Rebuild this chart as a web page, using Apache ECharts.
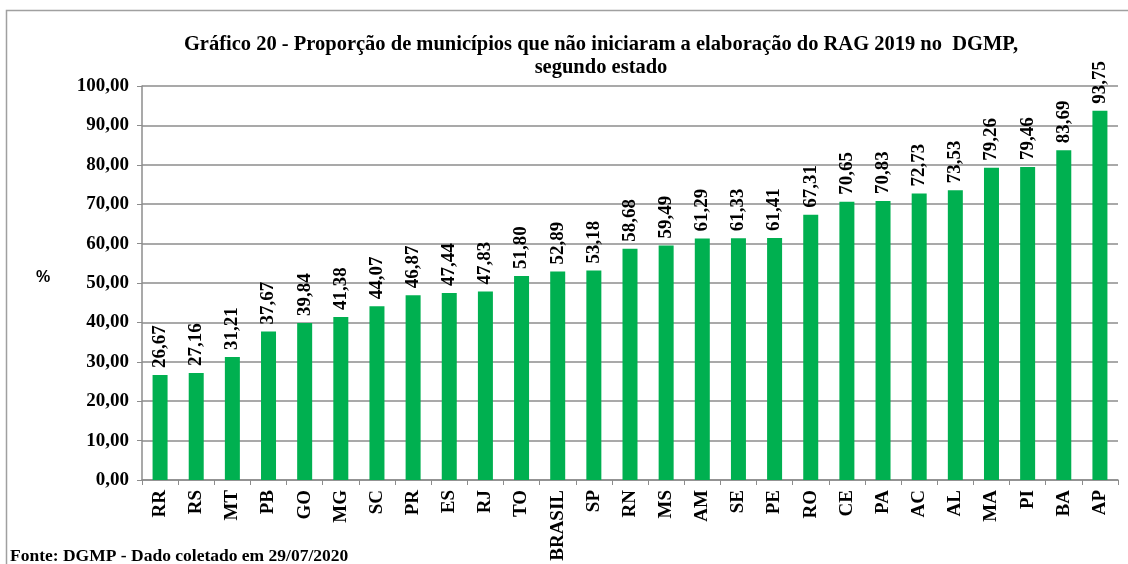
<!DOCTYPE html>
<html>
<head>
<meta charset="utf-8">
<script src="https://cdn.jsdelivr.net/npm/echarts@6/dist/echarts.min.js"></script>
<style>
  html, body { margin: 0; padding: 0; background: #fff; }
  #chart { width: 1128px; height: 564px; }
</style>
</head>
<body>
<div id="chart"></div>
<script>
// dados do gráfico
var estados = ['RR', 'RS', 'MT', 'PB', 'GO', 'MG', 'SC', 'PR', 'ES', 'RJ', 'TO', 'BRASIL', 'SP', 'RN',
  'MS', 'AM', 'SE', 'PE', 'RO', 'CE', 'PA', 'AC', 'AL', 'MA', 'PI', 'BA', 'AP'];
var proporcao = [26.67, 27.16, 31.21, 37.67, 39.84, 41.38, 44.07, 46.87, 47.44, 47.83, 51.80, 52.89, 53.18, 58.68,
  59.49, 61.29, 61.33, 61.41, 67.31, 70.65, 70.83, 72.73, 73.53, 79.26, 79.46, 83.69, 93.75];

var fonte = 'Liberation Serif, Times New Roman, serif';

function virgula(v) {
  return v.toFixed(2).replace('.', ',');
}

var chart = echarts.init(document.getElementById('chart'));
var option = {
  animation: false,
  title: {
    text: 'Gráfico 20 - Proporção de municípios que não iniciaram a elaboração do RAG 2019 no  DGMP,\nsegundo estado',
    left: 596,
    textAlign: 'center',
    top: 28,
    textStyle: { fontFamily: fonte, fontWeight: 'bold', fontSize: 20.5, color: '#000', lineHeight: 23 }
  },
  graphic: [
    {
      type: 'rect',
      shape: { x: 6.5, y: 10.5, width: 1140, height: 580 },
      style: { fill: 'none', stroke: '#a0a0a0', lineWidth: 1.5 }
    },
    {
      type: 'text', left: 36, top: 270,
      style: { text: '%', font: 'bold 16px Liberation Sans, Arial, sans-serif', fill: '#000' }
    },
    {
      type: 'text', left: 10, top: 547,
      style: { text: 'Fonte: DGMP - Dado coletado em 29/07/2020', font: 'bold 17.5px ' + fonte, fill: '#000' }
    }
  ],
  grid: { left: 142, right: 10, top: 86, bottom: 84 },
  xAxis: {
    type: 'category',
    data: estados,
    axisLine: { lineStyle: { color: '#8c8c8c', width: 1.5 } },
    axisTick: { show: true, length: 5, lineStyle: { color: '#8c8c8c' } },
    axisLabel: {
      rotate: 90, interval: 0, margin: 10,
      fontFamily: fonte, fontWeight: 'bold', fontSize: 19, color: '#000'
    }
  },
  yAxis: {
    type: 'value',
    min: 0, max: 100, interval: 10,
    axisLine: { show: true, lineStyle: { color: '#8c8c8c', width: 1.5 } },
    axisTick: { show: true, length: 5, lineStyle: { color: '#8c8c8c' } },
    splitLine: { lineStyle: { color: '#8c8c8c', width: 1.5 } },
    axisLabel: {
      margin: 13,
      fontFamily: fonte, fontWeight: 'bold', fontSize: 19, color: '#000',
      formatter: virgula
    }
  },
  series: [{
    type: 'bar',
    data: proporcao,
    barWidth: 15,
    itemStyle: { color: '#00b050' },
    label: {
      show: true,
      position: 'top',
      rotate: 90,
      align: 'left',
      verticalAlign: 'middle',
      distance: 7,
      fontFamily: fonte, fontWeight: 'bold', fontSize: 19, color: '#000',
      formatter: function (p) { return virgula(p.value); }
    }
  }]
};
chart.setOption(option);
</script>
</body>
</html>
